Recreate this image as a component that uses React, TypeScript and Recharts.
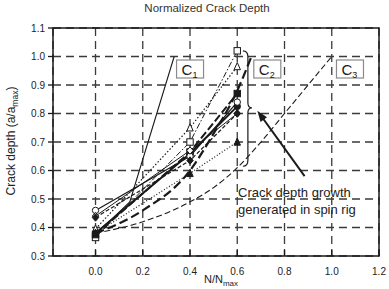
import React from 'react';
import { CartesianGrid, Customized, Line, LineChart, XAxis, YAxis } from 'recharts';

// Layout of the frame (kept apart from the data).
const W = 389;
const H = 289;
const PLOT = { left: 53, top: 28, right: 379, bottom: 256 };
const X_DOMAIN: [number, number] = [-0.18, 1.2];
const Y_DOMAIN: [number, number] = [0.3, 1.1];

const X_TICKS = [0, 0.2, 0.4, 0.6, 0.8, 1.0, 1.2];
const Y_TICKS = [0.3, 0.4, 0.5, 0.6, 0.7, 0.8, 0.9, 1.0, 1.1];

// Test points taken at three life fractions.
const N_TEST = [0, 0.4, 0.6];
const OPEN_SQUARE = [0.365, 0.7, 1.02];
const OPEN_TRIANGLE = [0.395, 0.75, 0.965];
const FILLED_SQUARE = [0.375, 0.665, 0.87];
const FILLED_CIRCLE = [0.38, 0.66, 0.825];
const OPEN_CIRCLE = [0.46, 0.65, 0.84];
const OPEN_DIAMOND = [0.44, 0.67, 0.8];
const FILLED_DIAMOND = [0.435, 0.635, 0.8];
const FILLED_TRIANGLE = [0.38, 0.59, 0.7];

// Reference curves C1..C3.
const N_C1 = [0, 0.07, 0.145, 0.333];
const A_C1 = [0.38, 0.43, 0.49, 1.0];
const N_C2 = [0, 0.2, 0.4, 0.5, 0.6, 0.66];
const A_C2 = [0.38, 0.46, 0.6, 0.73, 0.88, 1.0];
const N_C3 = [0, 0.2, 0.4, 0.5, 0.6, 0.7, 0.8, 0.9, 1.0];
const A_C3 = [0.38, 0.42, 0.49, 0.54, 0.61, 0.7, 0.8, 0.9, 1.0];

const pts = (xs: number[], ys: number[]) => xs.map((n, i) => ({ n, a: ys[i] }));

type Shape = 'square' | 'triangle' | 'circle' | 'diamond';

interface TestSeries {
  name: string;
  values: number[];
  shape: Shape;
  filled: boolean;
  dash?: string;
  width: number;
}

const TESTS: TestSeries[] = [
  { name: 'sq-open', values: OPEN_SQUARE, shape: 'square', filled: false, dash: '6 2 1.5 2', width: 1 },
  { name: 'tri-open', values: OPEN_TRIANGLE, shape: 'triangle', filled: false, dash: '1.5 2', width: 1.2 },
  { name: 'sq-filled', values: FILLED_SQUARE, shape: 'square', filled: true, dash: '8 3', width: 2 },
  { name: 'ci-filled', values: FILLED_CIRCLE, shape: 'circle', filled: true, width: 2 },
  { name: 'ci-open', values: OPEN_CIRCLE, shape: 'circle', filled: false, width: 1.2 },
  { name: 'di-open', values: OPEN_DIAMOND, shape: 'diamond', filled: false, width: 1 },
  { name: 'di-filled', values: FILLED_DIAMOND, shape: 'diamond', filled: true, dash: '4 2', width: 1.2 },
  { name: 'tri-filled', values: FILLED_TRIANGLE, shape: 'triangle', filled: true, dash: '1 2', width: 1.2 },
];

const INK = '#1a1a1a';
const GRID = '#3a3a3a';
const FONT = 'Arial, "Liberation Sans", sans-serif';

// pixel mapping used only for the hand-drawn annotations
const px = (n: number) =>
  PLOT.left + ((n - X_DOMAIN[0]) / (X_DOMAIN[1] - X_DOMAIN[0])) * (PLOT.right - PLOT.left);
const py = (a: number) =>
  PLOT.bottom - ((a - Y_DOMAIN[0]) / (Y_DOMAIN[1] - Y_DOMAIN[0])) * (PLOT.bottom - PLOT.top);

function Marker({ cx, cy, shape, filled }: { cx?: number; cy?: number; shape: Shape; filled: boolean }) {
  if (cx == null || cy == null) return null;
  const fill = filled ? INK : '#fff';
  const s = 3.2;
  if (shape === 'square') return <rect x={cx - s} y={cy - s} width={s * 2} height={s * 2} fill={fill} stroke={INK} strokeWidth={1} />;
  if (shape === 'circle') return <circle cx={cx} cy={cy} r={s} fill={fill} stroke={INK} strokeWidth={1} />;
  if (shape === 'triangle')
    return <polygon points={`${cx},${cy - s - 0.8} ${cx + s},${cy + s} ${cx - s},${cy + s}`} fill={fill} stroke={INK} strokeWidth={1} />;
  return <polygon points={`${cx},${cy - s - 0.5} ${cx + s},${cy} ${cx},${cy + s + 0.5} ${cx - s},${cy}`} fill={fill} stroke={INK} strokeWidth={1} />;
}

function XTick(props: any) {
  const { x, y, payload } = props;
  return (
    <g>
      <line x1={x} x2={x} y1={y} y2={y - 6} stroke={INK} strokeWidth={1.3} />
      <text x={x} y={y + 19} textAnchor="middle" fontSize={10} fontFamily={FONT} fill="#222">
        {Number(payload.value).toFixed(1)}
      </text>
    </g>
  );
}

function CBox({ n, label }: { n: number; label: string }) {
  const x = px(n);
  return (
    <g>
      <rect x={x} y={60} width={27} height={18} fill="#fff" stroke="#8a8a8a" strokeWidth={1.2} />
      <text x={x + 5} y={75} fontSize={15} fontFamily={FONT} fill={INK}>
        C
        <tspan fontSize={9} dy={3}>
          {label}
        </tspan>
      </text>
    </g>
  );
}

function Overlay() {
  const bx = px(0.645);
  const top = py(1.02);
  const tip = py(0.82);
  const bot = py(0.615);
  const brace = `M ${bx - 5} ${top} Q ${bx} ${top} ${bx} ${top + 6} L ${bx} ${tip - 5} Q ${bx} ${tip} ${bx + 4} ${tip} Q ${bx} ${tip} ${bx} ${tip + 5} L ${bx} ${bot - 6} Q ${bx} ${bot} ${bx - 5} ${bot}`;
  const ax1 = px(0.885);
  const ay1 = py(0.58);
  const ax2 = px(0.685);
  const ay2 = py(0.81);
  const ang = Math.atan2(ay2 - ay1, ax2 - ax1);
  const hl = 11;
  const hw = 4;
  const head = [
    [ax2, ay2],
    [ax2 - hl * Math.cos(ang) + hw * Math.sin(ang), ay2 - hl * Math.sin(ang) - hw * Math.cos(ang)],
    [ax2 - hl * Math.cos(ang) - hw * Math.sin(ang), ay2 - hl * Math.sin(ang) + hw * Math.cos(ang)],
  ]
    .map((p) => p.join(','))
    .join(' ');
  return (
    <g>
      <rect
        x={PLOT.left}
        y={PLOT.top}
        width={PLOT.right - PLOT.left}
        height={PLOT.bottom - PLOT.top}
        fill="none"
        stroke={INK}
        strokeWidth={1.5}
      />
      <path d={brace} fill="none" stroke={INK} strokeWidth={1.2} />
      <line x1={ax1} y1={ay1} x2={ax2 - 6 * Math.cos(ang)} y2={ay2 - 6 * Math.sin(ang)} stroke={INK} strokeWidth={2} />
      <polygon points={head} fill={INK} />
      <CBox n={0.343} label="1" />
      <CBox n={0.67} label="2" />
      <CBox n={1.02} label="3" />
      <text x={238} y={197} fontSize={13} fontFamily={FONT} fill="#222">
        Crack depth growth
      </text>
      <text x={238} y={214} fontSize={13} fontFamily={FONT} fill="#222">
        generated in spin rig
      </text>
      <text x={207} y={12} textAnchor="middle" fontSize={11.5} fontFamily={FONT} fill="#333">
        Normalized Crack Depth
      </text>
      <text x={204} y={283} fontSize={11} fontFamily={FONT} fill="#222">
        N/N
        <tspan fontSize={8} dy={2.5}>
          max
        </tspan>
      </text>
      <text transform="translate(15,141) rotate(-90)" textAnchor="middle" fontSize={12} fontFamily={FONT} fill="#222">
        Crack depth (a/a
        <tspan fontSize={8.5} dy={3}>
          max
        </tspan>
        <tspan dy={-3}>)</tspan>
      </text>
    </g>
  );
}

export default function App() {
  return (
    <div style={{ position: 'absolute', left: 0, top: 0, width: W, height: H, background: '#fff' }}>
      <LineChart width={W} height={H} margin={{ top: PLOT.top, right: W - PLOT.right, bottom: 0, left: 0 }}>
        <CartesianGrid stroke={GRID} strokeWidth={1.3} strokeDasharray="8 5" />
        <XAxis
          type="number"
          dataKey="n"
          domain={X_DOMAIN}
          ticks={X_TICKS}
          allowDataOverflow
          height={H - PLOT.bottom}
          axisLine={false}
          tickLine={false}
          tickSize={0}
          tickMargin={0}
          tick={<XTick />}
          interval={0}
        />
        <YAxis
          type="number"
          domain={Y_DOMAIN}
          ticks={Y_TICKS}
          allowDataOverflow
          width={PLOT.left}
          axisLine={false}
          tickSize={5}
          tickMargin={3}
          tickLine={{ stroke: INK, strokeWidth: 1.3 }}
          tick={{ fontSize: 10, fontFamily: FONT, fill: '#222' }}
          tickFormatter={(v: number) => v.toFixed(1)}
          interval={0}
        />
        <Line data={pts(N_C3, A_C3)} dataKey="a" type="monotone" stroke={INK} strokeWidth={1.1} strokeDasharray="6 3" dot={false} isAnimationActive={false} />
        <Line data={pts(N_C2, A_C2)} dataKey="a" type="monotone" stroke={INK} strokeWidth={2.2} strokeDasharray="9 4" dot={false} isAnimationActive={false} />
        <Line data={pts(N_C1, A_C1)} dataKey="a" type="linear" stroke={INK} strokeWidth={1.1} dot={false} isAnimationActive={false} />
        {TESTS.map((s) => (
          <Line
            key={s.name}
            data={pts(N_TEST, s.values)}
            dataKey="a"
            type="linear"
            stroke={INK}
            strokeWidth={s.width}
            strokeDasharray={s.dash}
            dot={(p: any) => <Marker key={`${s.name}-${p.index}`} cx={p.cx} cy={p.cy} shape={s.shape} filled={s.filled} />}
            activeDot={false}
            isAnimationActive={false}
          />
        ))}
        <Customized component={<Overlay />} />
      </LineChart>
    </div>
  );
}
